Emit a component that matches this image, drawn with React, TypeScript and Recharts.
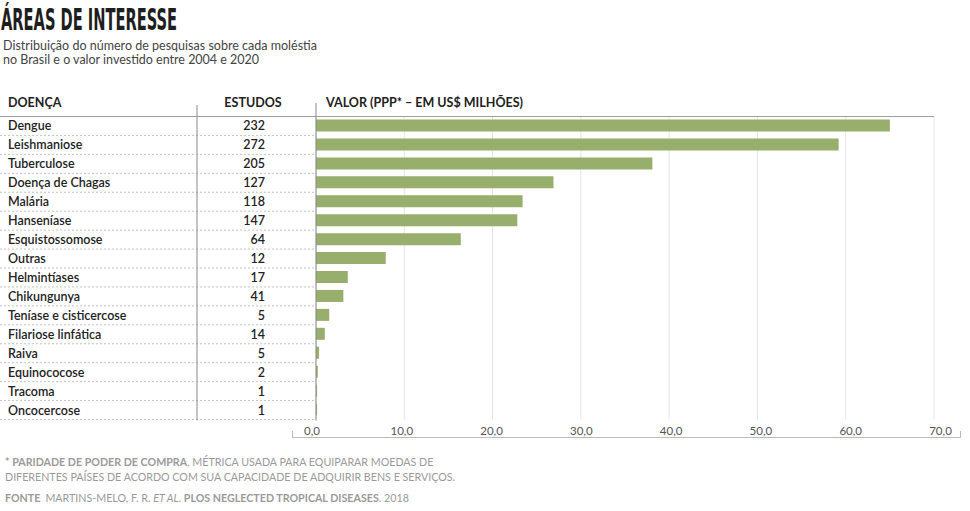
import { BarChart, Bar, XAxis, YAxis, CartesianGrid } from "recharts";

const diseases = [
  "Dengue",
  "Leishmaniose",
  "Tuberculose",
  "Doença de Chagas",
  "Malária",
  "Hanseníase",
  "Esquistossomose",
  "Outras",
  "Helmintíases",
  "Chikungunya",
  "Teníase e cisticercose",
  "Filariose linfática",
  "Raiva",
  "Equinococose",
  "Tracoma",
  "Oncocercose",
];

const studies = [232, 272, 205, 127, 118, 147, 64, 12, 17, 41, 5, 14, 5, 2, 1, 1];

// US$ millions (PPP)
const values = [65.0, 59.2, 38.1, 26.9, 23.4, 22.8, 16.4, 7.9, 3.6, 3.1, 1.5, 1.0, 0.35, 0.2, 0.12, 0.12];

const xTicks = [0, 10, 20, 30, 40, 50, 60, 70];

const W = 970;
const H = 511;
const PLOT_LEFT = 316;
const PLOT_TOP = 116.5;
const PLOT_BOTTOM = 419.5;
const X_AXIS_H = 30;
const ROW_H = (PLOT_BOTTOM - PLOT_TOP) / diseases.length;

const FONT = "Lato, 'Open Sans', sans-serif";
const INK = "#222222";
const GREY = "#9a9a9a";

const data = diseases.map((name, i) => ({ name, studies: studies[i], value: values[i] }));
const studiesByName: Record<string, number> = {};
data.forEach((d) => (studiesByName[d.name] = d.studies));

function RowTick(props: any) {
  const { y, payload } = props;
  const half = ROW_H / 2;
  return (
    <g>
      <line x1={0} x2={PLOT_LEFT} y1={y + half} y2={y + half} stroke="#c4c4c4" strokeDasharray="2 2" />
      <text x={8} y={y} dy={4.5} fontFamily={FONT} fontSize={12.5} fontWeight={600} fill={INK}>
        {payload.value}
      </text>
      <text x={265} y={y} dy={4.5} textAnchor="end" fontFamily={FONT} fontSize={12.5} fontWeight={600} fill={INK}>
        {studiesByName[payload.value]}
      </text>
    </g>
  );
}

function ValueTick(props: any) {
  const { x, y, payload } = props;
  const v = payload.value as number;
  // labels in the original sit a bit wider apart than the grid
  return (
    <text x={x - 4 + v * 0.15} y={y} dy={7.5} textAnchor="middle" fontFamily={FONT} fontSize={11.5} fill="#555555">
      {v.toFixed(1).replace(".", ",")}
    </text>
  );
}

export default function App() {
  return (
    <div style={{ position: "relative", width: W, height: H, background: "#fff", overflow: "hidden" }}>
      <style>{`body{margin:0}`}</style>

      <BarChart
        width={W}
        height={H}
        data={data}
        layout="vertical"
        margin={{ top: PLOT_TOP, right: W - 934, bottom: H - PLOT_BOTTOM - X_AXIS_H, left: 0 }}
        style={{ position: "absolute", left: 0, top: 0 }}
      >
        <CartesianGrid horizontal={false} stroke="#e4e4e4" />
        <XAxis
          type="number"
          domain={[0, 70]}
          ticks={xTicks}
          axisLine={false}
          tickLine={false}
          height={X_AXIS_H}
          tick={<ValueTick />}
        />
        <YAxis
          type="category"
          dataKey="name"
          width={PLOT_LEFT}
          axisLine={false}
          tickLine={false}
          interval={0}
          tick={<RowTick />}
        />
        <Bar dataKey="value" fill="#97ae6d" barSize={12} isAnimationActive={false} />
      </BarChart>

      <svg width={W} height={H} style={{ position: "absolute", left: 0, top: 0, pointerEvents: "none" }}>
        {/* title */}
        <text
          x={1}
          y={29.5}
          fontFamily="'Liberation Sans Narrow', 'DejaVu Sans Condensed', sans-serif"
          fontWeight={700}
          fontSize={30.5}
          textLength={176}
          lengthAdjust="spacingAndGlyphs"
          fill="#1e1e1e"
        >
          ÁREAS DE INTERESSE
        </text>
        <text x={3} y={49.5} fontFamily={FONT} fontSize={12.5} fill="#444" textLength={314} lengthAdjust="spacing">
          Distribuição do número de pesquisas sobre cada moléstia
        </text>
        <text x={3} y={63.5} fontFamily={FONT} fontSize={12.5} fill="#444" textLength={256} lengthAdjust="spacing">
          no Brasil e o valor investido entre 2004 e 2020
        </text>

        {/* column headers */}
        <text x={8} y={106.5} fontFamily={FONT} fontSize={12.5} fontWeight={700} fill={INK}>
          DOENÇA
        </text>
        <text x={253} y={106.5} textAnchor="middle" fontFamily={FONT} fontSize={12.5} fontWeight={700} fill={INK}>
          ESTUDOS
        </text>
        <text x={326} y={106.5} fontFamily={FONT} fontSize={12.5} fontWeight={700} fill={INK}>
          VALOR (PPP* – EM US$ MILHÕES)
        </text>

        {/* table rules */}
        <line x1={0} x2={934} y1={PLOT_TOP} y2={PLOT_TOP} stroke="#a0a0a0" />
        <line x1={197} x2={197} y1={105} y2={PLOT_BOTTOM + 1} stroke="#8a8a8a" />
        <line x1={PLOT_LEFT} x2={PLOT_LEFT} y1={103} y2={PLOT_BOTTOM + 1} stroke="#8a8a8a" />
        <path d="M292.5,431 V437.5 H960.5 V431" fill="none" stroke="#bbbbbb" />

        {/* notes */}
        <text x={5} y={465.5} fontFamily={FONT} fontSize={10.7} fill={GREY}>
          <tspan fontWeight={700}>* PARIDADE DE PODER DE COMPRA</tspan>, MÉTRICA USADA PARA EQUIPARAR MOEDAS DE
        </text>
        <text x={5} y={480.5} fontFamily={FONT} fontSize={10.7} fill={GREY}>
          DIFERENTES PAÍSES DE ACORDO COM SUA CAPACIDADE DE ADQUIRIR BENS E SERVIÇOS.
        </text>
        <text x={5} y={502} fontFamily={FONT} fontSize={10.7} fill={GREY}>
          <tspan fontWeight={700}>FONTE</tspan>
          <tspan dx={5}>MARTINS-MELO, F. R. </tspan>
          <tspan fontStyle="italic">ET AL</tspan>. <tspan fontWeight={700}>PLOS NEGLECTED TROPICAL DISEASES</tspan>. 2018
        </text>
      </svg>
    </div>
  );
}
